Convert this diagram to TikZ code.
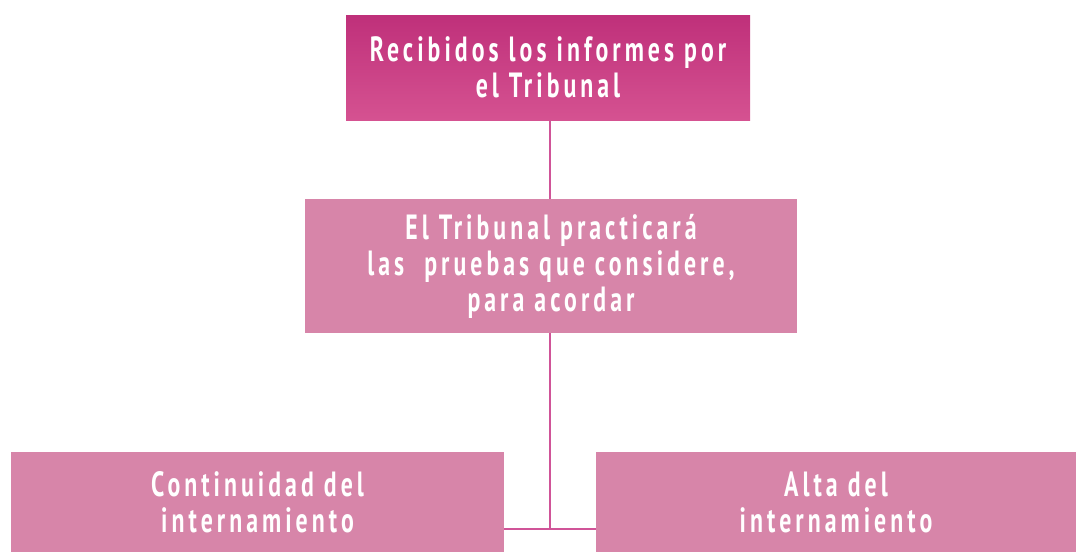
\documentclass[tikz,border=0pt]{standalone}
\usepackage{fontspec}
\setmainfont{PT Sans}[BoldFont={PT Sans Bold}]
\usepackage{xcolor}
\usetikzlibrary{positioning,calc}
\definecolor{headtop}{RGB}{191,48,122}
\definecolor{headbot}{RGB}{213,82,145}
\definecolor{boxcolor}{RGB}{215,133,169}
\definecolor{linkcolor}{RGB}{208,84,152}

\newfontfamily\boxfont{PT Sans Bold}[FakeStretch=0.68,LetterSpace=11.5]

\begin{document}
\begin{tikzpicture}[x=1pt,y=-1pt,
    box/.style={inner sep=0pt,align=center,text=white,
        font=\boxfont\fontsize{35}{36}\selectfont},
    link/.style={linkcolor,line width=1.5pt}]
    % Frame
    \useasboundingbox (0,0) rectangle (1076,552);

    % Boxes
    \node[box,minimum width=404pt,minimum height=105pt,
        top color=headtop,bottom color=headbot] (head) at (548,67.5)
        {Recibidos los informes por\\el Tribunal};
    \node[box,fill=boxcolor,minimum width=492pt,minimum height=134pt] (trial) at (551,266)
        {El Tribunal practicará\\las\ \ pruebas que considere,\\para acordar};
    \node[box,fill=boxcolor,minimum width=493pt,minimum height=100pt] (keep) at (257.5,502)
        {Continuidad del\\internamiento};
    \node[box,fill=boxcolor,minimum width=480pt,minimum height=100pt] (release) at (836,502)
        {Alta del\\internamiento};

    % Connectors
    \coordinate (join) at (550,529);
    \draw[link] (head.south -| join) -- (trial.north -| join);
    \draw[link] (trial.south -| join) -- (join);
    \draw[link] (keep.east |- join) -- (release.west |- join);
\end{tikzpicture}
\end{document}
